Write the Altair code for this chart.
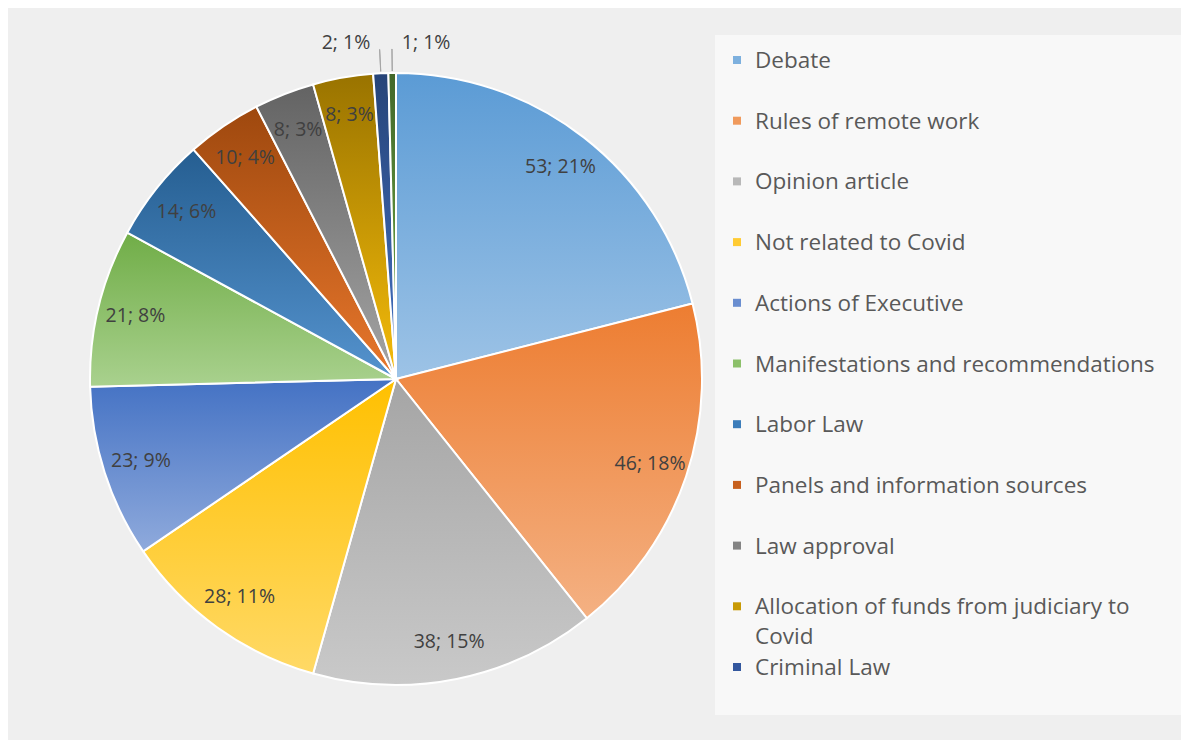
import altair as alt
import pandas as pd

categories = [
    "Debate", "Rules of remote work", "Opinion article", "Not related to Covid",
    "Actions of Executive", "Manifestations and recommendations", "Labor Law",
    "Panels and information sources", "Law approval",
    "Allocation of funds from judiciary to Covid", "Criminal Law", "Other",
]
values = [53, 46, 38, 28, 23, 21, 14, 10, 8, 8, 2, 1]
percents = [21, 18, 15, 11, 9, 8, 6, 4, 3, 3, 1, 1]
top_colors = ["#5B9BD5", "#ED7D31", "#A5A5A5", "#FFC000", "#4472C4", "#70AD47",
              "#255E91", "#9E480E", "#636363", "#997300", "#264478", "#43682B"]
bottom_colors = ["#9DC3E6", "#F4B183", "#C9C9C9", "#FFD966", "#8FAADC", "#A9D18E",
                 "#5593CE", "#E8772C", "#A5A5A5", "#F5BC0A", "#4472C4", "#70AD47"]
legend_colors = ["#7DB0DE", "#F09A5C", "#B8B8B8", "#FFCB33", "#6A8ED0", "#8CC06A",
                 "#3C7DBA", "#C7601E", "#848484", "#C89A05", "#33579E", "#5A8B39"]
legend_labels = [
    "Debate", "Rules of remote work", "Opinion article", "Not related to Covid",
    "Actions of Executive", "Manifestations and recommendations", "Labor Law",
    "Panels and information sources", "Law approval",
    "Allocation of funds from judiciary to\nCovid", "Criminal Law",
]
legend_cats = categories[:len(legend_labels)]

df = pd.DataFrame({
    "category": categories,
    "value": values,
    "order": list(range(len(categories))),
    "label": [f"{v}; {p}%" for v, p in zip(values, percents)],
    "display": legend_labels + [""] * (len(categories) - len(legend_labels)),
})
total = sum(values)

CX, CY, R = 388, 371, 306
FONT = "Open Sans"

theta_scale = alt.Scale(domain=[0, total])
legend_scale = alt.Scale(domain=categories, range=legend_colors)

base = alt.Chart(df).transform_window(
    cum="sum(value)", sort=[alt.SortField("order")], frame=[None, 0]
).transform_calculate(
    start="datum.cum - datum.value",
    mid="datum.cum - datum.value / 2",
    mid2="datum.cum - datum.value / 2 + 0.02",
)

bg = alt.Chart(pd.DataFrame({"a": [0]})).mark_rect(fill="#f8f8f8").encode(
    x=alt.value(707), x2=alt.value(1175), y=alt.value(27), y2=alt.value(707)
)

slice_layers = []
for i, (c0, c1) in enumerate(zip(top_colors, bottom_colors)):
    grad = alt.LinearGradient(
        gradient="linear",
        stops=[alt.GradientStop(color=c0, offset=0),
               alt.GradientStop(color=c1, offset=1)],
        x1=0, x2=0, y1=0, y2=1,
    )
    slice_layers.append(
        base.transform_filter(f"datum.order == {i}").mark_arc(
            radius=R, stroke="white", strokeWidth=2, fill=grad
        ).encode(
            theta=alt.Theta("start:Q", scale=theta_scale),
            theta2="cum:Q",
            x=alt.value(CX), y=alt.value(CY),
        )
    )

inner_labels = base.transform_filter("datum.order < 10").mark_text(
    radius=268, fontSize=19.5, font=FONT, color="#404040"
).encode(
    theta=alt.Theta("mid:Q", scale=theta_scale),
    text="label:N",
    x=alt.value(CX), y=alt.value(CY),
)

leaders = base.transform_filter("datum.order >= 10").mark_arc(
    radius=330, radius2=R + 2, filled=False, stroke="#a6a6a6", strokeWidth=1
).encode(
    theta=alt.Theta("mid:Q", scale=theta_scale),
    theta2="mid2:Q",
    x=alt.value(CX), y=alt.value(CY),
)

out_left = base.transform_filter("datum.order == 10").mark_text(
    radius=336, fontSize=19.5, font=FONT, color="#404040", align="right", dx=-9
).encode(
    theta=alt.Theta("mid:Q", scale=theta_scale),
    text="label:N",
    x=alt.value(CX), y=alt.value(CY),
)
out_right = base.transform_filter("datum.order == 11").mark_text(
    radius=336, fontSize=19.5, font=FONT, color="#404040", align="left", dx=10
).encode(
    theta=alt.Theta("mid:Q", scale=theta_scale),
    text="label:N",
    x=alt.value(CX), y=alt.value(CY),
)

ly = alt.Y("category:N", scale=alt.Scale(type="point", domain=legend_cats,
                                         range=[52, 659], padding=0), axis=None)
leg_sq = base.transform_filter(f"datum.order < {len(legend_cats)}").mark_square(
    size=64, opacity=1
).encode(
    x=alt.value(729), y=ly,
    color=alt.Color("category:N", scale=legend_scale, legend=None),
)
leg_txt = base.transform_filter(f"datum.order < {len(legend_cats)}").mark_text(
    align="left", baseline="alphabetic", dy=8, font=FONT, fontSize=22.5,
    color="#595959", lineBreak="\n", lineHeight=30,
).encode(
    x=alt.value(747), y=ly, text="display:N",
)

chart = alt.layer(
    bg, *slice_layers, inner_labels, leaders, out_left, out_right, leg_sq, leg_txt
).properties(
    width=1173, height=732, background="#efefef", padding=0, autosize="none"
).configure_view(strokeWidth=0)

chart.save("out.html", embed_options={"renderer": "svg", "actions": False})
